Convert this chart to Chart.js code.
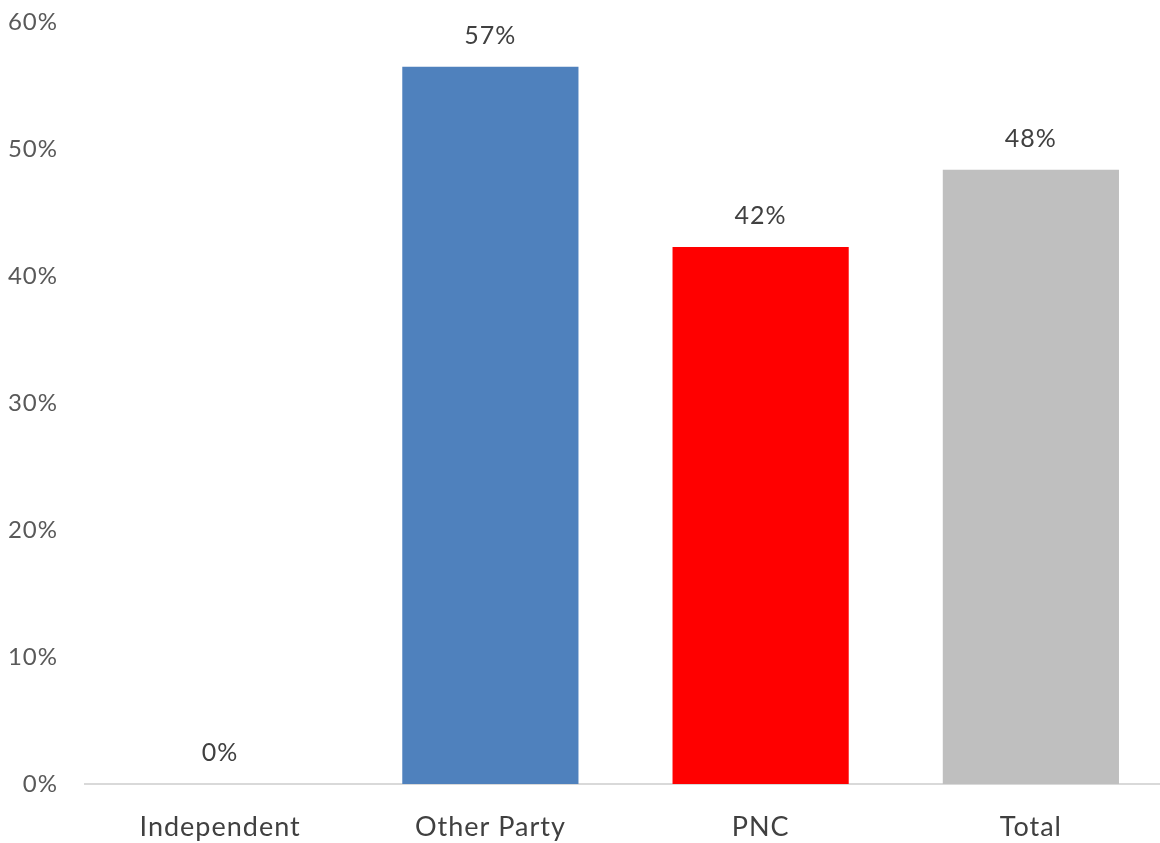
<!DOCTYPE html>
<html>
<head>
<meta charset="utf-8">
<script src="https://cdn.jsdelivr.net/npm/chart.js@4"></script>
<style>
  html, body { margin: 0; padding: 0; background: #fff; overflow: hidden; }
  #wrap { width: 1166px; height: 854px; margin-top: -11px; }
</style>
</head>
<body>
<div id="wrap"><canvas id="partyChart"></canvas></div>
<script>
const categories = ['Independent', 'Other Party', 'PNC', 'Total']
const shares = [0, 56.5, 42.3, 48.4]
const barColors = ['#4f81bd', '#4f81bd', '#ff0000', '#bfbfbf']
const yTicks = [0, 10, 20, 30, 40, 50, 60]

const fontFamily = 'Lato, "Open Sans", sans-serif'

// a little letter spacing, the original text runs wide
const spacing = {
    id: 'spacing',
    beforeDraw(chart) {
        chart.ctx.letterSpacing = '1px'
    }
}

// draws the rounded value above each bar
const valueLabels = {
    id: 'valueLabels',
    afterDatasetsDraw(chart) {
        const ctx = chart.ctx
        const meta = chart.getDatasetMeta(0)
        ctx.save()
        ctx.font = '25px ' + fontFamily
        ctx.fillStyle = '#404040'
        ctx.textAlign = 'center'
        ctx.textBaseline = 'middle'
        meta.data.forEach((bar, i) => {
            ctx.fillText(Math.round(shares[i]) + '%', bar.x, bar.y - 31)
        })
        ctx.restore()
    }
}

var ctx = document.getElementById('partyChart')
var partyChart = new Chart(ctx, {
    type: 'bar',
    data: {
        labels: categories,
        datasets: [{
            data: shares,
            backgroundColor: barColors,
            barPercentage: 0.652,
            categoryPercentage: 1
        }]
    },
    options: {
        responsive: true,
        maintainAspectRatio: false,
        animation: false,
        layout: { padding: { top: 8, right: 0, left: 0, bottom: 0 } },
        plugins: {
            legend: { display: false },
            tooltip: { enabled: false }
        },
        scales: {
            x: {
                afterFit: axis => { axis.height = 59 },
                grid: { display: false },
                border: { color: '#d9d9d9', width: 2 },
                ticks: {
                    color: '#404040',
                    padding: 19,
                    font: { family: fontFamily, size: 27 }
                }
            },
            y: {
                min: 0,
                max: 60,
                afterFit: axis => { axis.width = 85 },
                afterBuildTicks: axis => {
                    axis.ticks = yTicks.map(v => ({ value: v }))
                },
                grid: { display: false },
                border: { display: false },
                ticks: {
                    color: '#595959',
                    padding: 19,
                    callback: v => v + '%',
                    font: { family: fontFamily, size: 24 }
                }
            }
        }
    },
    plugins: [spacing, valueLabels]
})
</script>
</body>
</html>
